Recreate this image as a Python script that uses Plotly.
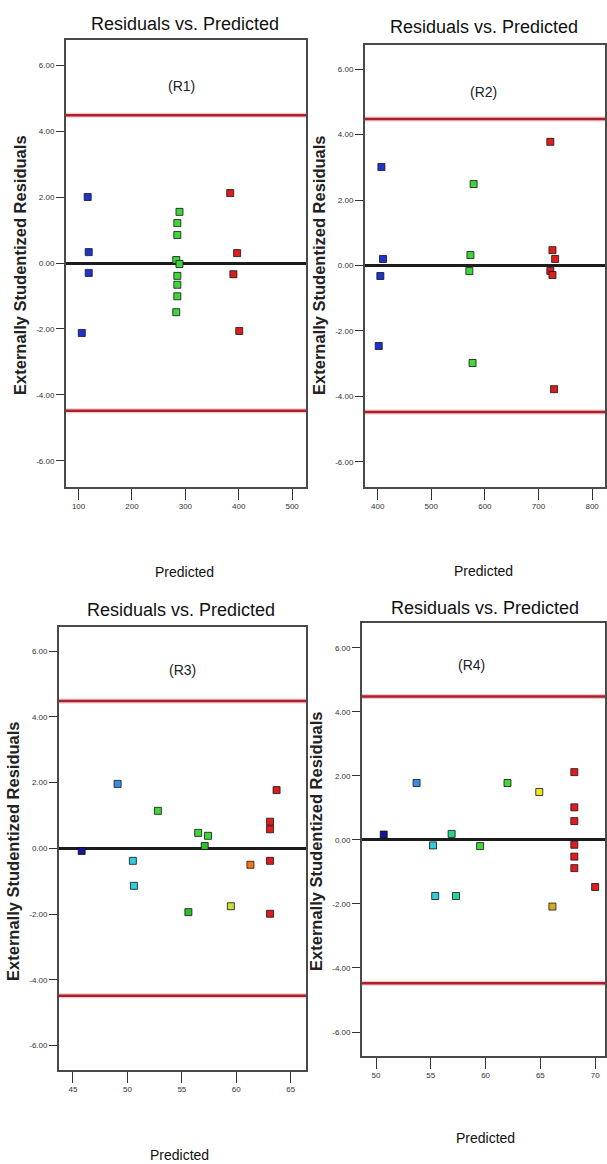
import plotly.graph_objects as go

W, H = 607, 1164

# ---- data: predicted values, externally studentized residuals, colour group ----
R1_PRED = [117, 119, 119, 106, 289, 285, 285, 283, 289, 285, 285, 285, 283, 384, 397, 390, 401]
R1_RESID = [2.00, 0.33, -0.30, -2.12, 1.55, 1.21, 0.85, 0.09, -0.03, -0.39, -0.66, -1.01, -1.49, 2.12, 0.30, -0.34, -2.06]
R1_GROUP = ["blue"] * 4 + ["green"] * 9 + ["red"] * 4

R2_PRED = [407, 410, 405, 402, 579, 573, 571, 577, 722, 726, 731, 722, 726, 729]
R2_RESID = [3.01, 0.20, -0.32, -2.46, 2.49, 0.32, -0.17, -2.98, 3.78, 0.47, 0.20, -0.17, -0.29, -3.78]
R2_GROUP = ["blue"] * 4 + ["green"] * 4 + ["red"] * 6

R3_PRED = [45.8, 49.1, 50.5, 50.6, 52.8, 56.5, 57.1, 57.4, 55.6, 59.5, 61.3, 63.7, 63.1, 63.1, 63.1, 63.1]
R3_RESID = [-0.08, 1.96, -0.38, -1.14, 1.14, 0.47, 0.07, 0.38, -1.94, -1.76, -0.50, 1.77, 0.81, 0.58, -0.38, -1.99]
R3_GROUP = ["navy", "sky", "cyan", "cyan", "green", "green", "darkgreen", "green", "darkgreen",
            "yellowgreen", "orange", "red", "red", "red", "red", "red"]

R4_PRED = [50.7, 53.7, 55.2, 56.9, 59.5, 62.0, 64.9, 68.1, 68.1, 68.1, 68.1, 68.1, 68.1, 70.0, 55.4, 57.3, 66.1]
R4_RESID = [0.17, 1.78, -0.17, 0.19, -0.19, 1.78, 1.50, 2.12, 1.02, 0.59, -0.15, -0.52, -0.88, -1.47, -1.75, -1.75, -2.08]
R4_GROUP = ["navy", "sky", "cyan", "aqua", "green", "green", "yellow", "red", "red", "red", "red",
            "red", "red", "red", "cyan", "aqua", "gold"]

PANEL_LABELS = ["(R1)", "(R2)", "(R3)", "(R4)"]
LIMIT = 4.48  # outlier limits (+/-)

Y_TICKS = [-6, -4, -2, 0, 2, 4, 6]
Y_TICK_TEXT = ["-6.00", "-4.00", "-2.00", "0.00", "2.00", "4.00", "6.00"]
X_TICKS_12 = [[100, 200, 300, 400, 500], [400, 500, 600, 700, 800]]
X_TICKS_34 = [[45, 50, 55, 60, 65], [50, 55, 60, 65, 70]]

PALETTE = {
    "navy": "#16168e", "blue": "#1f33cf", "sky": "#3a8de4", "cyan": "#34c9dc",
    "aqua": "#2bd38e", "green": "#3fd63a", "darkgreen": "#2fbf2c",
    "yellowgreen": "#c9de3a", "yellow": "#e8e625", "gold": "#d4ab27",
    "orange": "#f07816", "red": "#de1d1f",
}

NARROW = "Liberation Sans Narrow, Arial Narrow, Liberation Sans, Arial"
SANS = "Liberation Sans, Arial"

# ---- panel geometry (pixels in the page) ----
panels = [
    dict(pred=R1_PRED, resid=R1_RESID, group=R1_GROUP, xt=X_TICKS_12[0],
         box=(66, 307, 40, 487), xr=[76, 526], yr=[-6.79, 6.76],
         title=(186, 24), xlab=(185, 572), ylab=(20, 265), tag=(182, 86)),
    dict(pred=R2_PRED, resid=R2_RESID, group=R2_GROUP, xt=X_TICKS_12[1],
         box=(366, 607, 45, 487), xr=[376, 824], yr=[-6.77, 6.74],
         title=(486, 27), xlab=(485, 571), ylab=(320, 265), tag=(485, 92)),
    dict(pred=R3_PRED, resid=R3_RESID, group=R3_GROUP, xt=X_TICKS_34[0],
         box=(59, 307, 627, 1070), xr=[43.7, 66.4], yr=[-6.74, 6.73],
         title=(182, 610), xlab=(180, 1155), ylab=(13, 851), tag=(183, 670)),
    dict(pred=R4_PRED, resid=R4_RESID, group=R4_GROUP, xt=X_TICKS_34[1],
         box=(363, 607, 623, 1056), xr=[48.7, 70.9], yr=[-6.75, 6.78],
         title=(487, 608), xlab=(487, 1138), ylab=(317, 841), tag=(473, 665)),
]


def px(x):
    return x / W


def py(y):
    return 1 - y / H


fig = go.Figure()
annotations = []
shapes = []
layout = {}

for i, p in enumerate(panels, start=1):
    sfx = "" if i == 1 else str(i)
    xa, ya = "x" + sfx, "y" + sfx
    x0, x1, y0, y1 = p["box"]

    fig.add_trace(go.Scatter(
        x=p["pred"], y=p["resid"], mode="markers", xaxis=xa, yaxis=ya,
        marker=dict(symbol="square", size=7,
                    color=[PALETTE[g] for g in p["group"]],
                    line=dict(color="rgba(20,20,20,0.8)", width=1)),
        showlegend=False, hoverinfo="x+y",
    ))

    axis_common = dict(showline=True, linecolor="#4a4a4a", linewidth=1.5, mirror=True,
                       showgrid=False, ticks="outside", tickcolor="#333",
                       tickfont=dict(family=NARROW, size=8, color="#333"))
    layout["xaxis" + sfx] = dict(axis_common, domain=[px(x0), px(x1)], range=p["xr"],
                                 anchor=ya, tickmode="array", tickvals=p["xt"],
                                 ticklen=11, tickwidth=1.3, zeroline=False)
    layout["yaxis" + sfx] = dict(axis_common, domain=[py(y1), py(y0)], range=p["yr"],
                                 anchor=xa, tickmode="array", tickvals=Y_TICKS,
                                 ticktext=Y_TICK_TEXT, ticklen=8, tickwidth=1.3,
                                 zeroline=True, zerolinecolor="#1c1c1c", zerolinewidth=3)

    # outlier limit lines
    for lim in (LIMIT, -LIMIT):
        shapes.append(dict(type="line", xref=xa + " domain", yref=ya, x0=0, x1=1,
                           y0=lim, y1=lim, layer="below",
                           line=dict(color="rgba(220,120,130,0.4)", width=5)))
        shapes.append(dict(type="line", xref=xa + " domain", yref=ya, x0=0, x1=1,
                           y0=lim, y1=lim, layer="below",
                           line=dict(color="#ad2029", width=2.5)))

    annotations += [
        dict(text="Residuals vs. Predicted", x=px(p["title"][0]), y=py(p["title"][1]),
             xref="paper", yref="paper", showarrow=False, xanchor="center", yanchor="middle",
             font=dict(family=NARROW, size=18, color="#111")),
        dict(text="Predicted", x=px(p["xlab"][0]), y=py(p["xlab"][1]),
             xref="paper", yref="paper", showarrow=False, xanchor="center", yanchor="middle",
             font=dict(family=NARROW, size=14, color="#111")),
        dict(text="<b>Externally Studentized Residuals</b>", x=px(p["ylab"][0]),
             y=py(p["ylab"][1]), xref="paper", yref="paper", showarrow=False,
             textangle=-90, xanchor="center", yanchor="middle",
             font=dict(family=SANS, size=16.5, color="#222")),
        dict(text=PANEL_LABELS[i - 1], x=px(p["tag"][0]), y=py(p["tag"][1]),
             xref="paper", yref="paper", showarrow=False, xanchor="center", yanchor="middle",
             font=dict(family=NARROW, size=14, color="#222")),
    ]

fig.update_layout(
    width=W, height=H, margin=dict(l=0, r=0, t=0, b=0),
    paper_bgcolor="white", plot_bgcolor="white",
    annotations=annotations, shapes=shapes, **layout,
)

fig.write_html("out.html")
